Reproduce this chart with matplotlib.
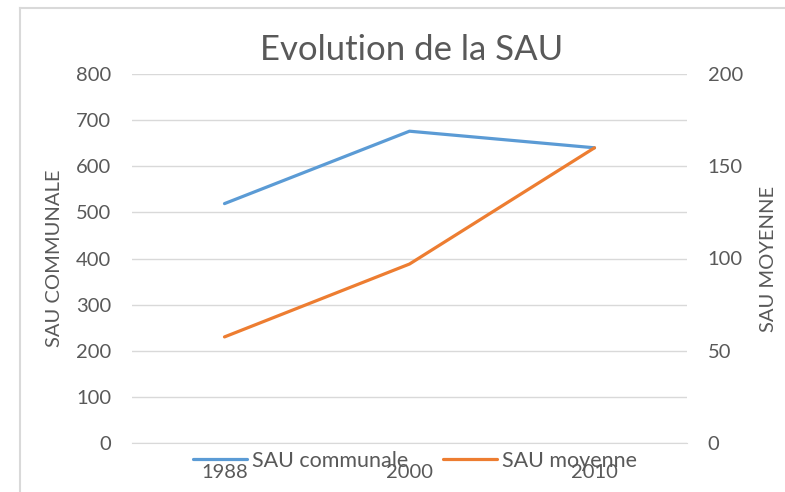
import matplotlib.pyplot as plt
from matplotlib.lines import Line2D

# données
annees = ["1988", "2000", "2010"]
sau_communale = [519, 676, 640]
sau_moyenne = [57.5, 97, 160]

BLEU = "#5B9BD5"
ORANGE = "#ED7D31"
GRIS_TEXTE = "#595959"
GRIS_GRILLE = "#D9D9D9"

plt.rcParams["font.family"] = ["Lato", "DejaVu Sans"]

fig = plt.figure(figsize=(7.85, 4.92), dpi=100)
ax = fig.add_axes([132 / 785, 1 - 443 / 492, 555 / 785, 369 / 492])
ax2 = ax.twinx()

x = list(range(len(annees)))
l1, = ax.plot(x, sau_communale, color=BLEU, lw=2.3, solid_capstyle="round")
l2, = ax2.plot(x, sau_moyenne, color=ORANGE, lw=2.3, solid_capstyle="round")

ax.set_xlim(-0.5, len(annees) - 0.5)
ax.set_xticks(x)
ax.set_xticklabels(annees)
ax.set_ylim(0, 800)
ax.set_yticks(range(0, 801, 100))
ax2.set_ylim(0, 200)
ax2.set_yticks(range(0, 201, 50))

ax.grid(True, axis="y", color=GRIS_GRILLE, lw=1)
ax.set_axisbelow(True)
for a in (ax, ax2):
    for s in a.spines.values():
        s.set_visible(False)
ax.spines["bottom"].set_visible(True)
ax.spines["bottom"].set_color(GRIS_GRILLE)

TAILLE = 14.5
ax.tick_params(axis="x", length=0, pad=15, labelsize=TAILLE, labelcolor=GRIS_TEXTE)
ax.tick_params(axis="y", length=0, pad=15, labelsize=TAILLE, labelcolor=GRIS_TEXTE)
ax2.tick_params(axis="y", length=0, pad=15, labelsize=TAILLE, labelcolor=GRIS_TEXTE)

ax.set_ylabel("SAU COMMUNALE", fontsize=14.5, color=GRIS_TEXTE, labelpad=9)
ax2.set_ylabel("SAU MOYENNE", fontsize=14.5, color=GRIS_TEXTE, labelpad=12)

fig.text(412 / 785, 1 - 50 / 492, "Evolution de la SAU", ha="center", va="center",
         fontsize=25, color=GRIS_TEXTE)

fig.legend([l1, l2], ["SAU communale", "SAU moyenne"], loc="center",
           bbox_to_anchor=(415 / 785, 1 - 461 / 492), ncol=2, frameon=False,
           fontsize=15.5, labelcolor=GRIS_TEXTE, handlelength=2.5,
           handletextpad=0.25, columnspacing=1.6)

# cadre du graphique
fig.add_artist(Line2D([20 / 785, 20 / 785], [0, 1 - 8 / 492], transform=fig.transFigure,
                      color=GRIS_GRILLE, lw=1.5))
fig.add_artist(Line2D([20 / 785, 1], [1 - 8 / 492, 1 - 8 / 492], transform=fig.transFigure,
                      color=GRIS_GRILLE, lw=1.5))

fig.savefig("out.png", dpi=100)
